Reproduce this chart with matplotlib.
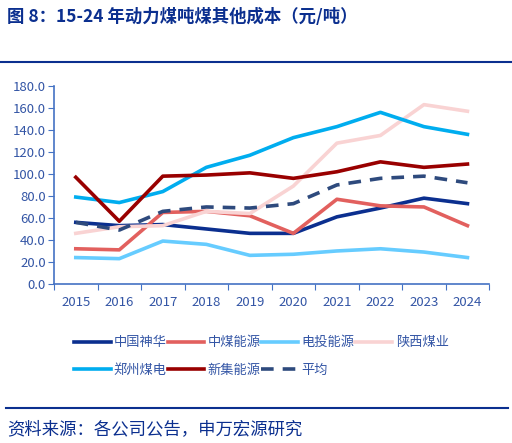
import numpy as np
import matplotlib
matplotlib.use('Agg')
import matplotlib.pyplot as plt
from matplotlib.lines import Line2D

plt.rcParams['font.family'] = ['Liberation Sans Narrow', 'Noto Sans CJK SC', 'DejaVu Sans']

# data
years = ['2015', '2016', '2017', '2018', '2019', '2020', '2021', '2022', '2023', '2024']
shenhua = [56, 53, 54, 50, 46, 46, 61, 69, 78, 73]
zhongmei = [32, 31, 65, 66, 62, 46, 77, 71, 70, 53]
diantou = [24, 23, 39, 36, 26, 27, 30, 32, 29, 24]
shanxi = [46, 52, 53, 66, 64, 89, 128, 135, 163, 157]
zhengzhou = [79, 74, 84, 106, 117, 133, 143, 156, 143, 136]
xinji = [97, 57, 98, 99, 101, 96, 102, 111, 106, 109]
average = [56, 49, 66, 70, 69, 73, 90, 96, 98, 92]

names = ['中国神华', '中煤能源', '电投能源', '陕西煤业', '郑州煤电', '新集能源', '平均']
colors = ['#0B2F8F', '#E2605E', '#66CCFF', '#F9D3D3', '#00ADEF', '#990000', '#2E4A7D']

navy = '#0B2F8F'
axcol = '#4472C4'
txtcol = '#3355A5'

fig = plt.figure(figsize=(5.12, 4.43), dpi=100)

fig.text(0.014, 0.962, '图 8：15-24 年动力煤吨煤其他成本（元/吨）', fontsize=12.5,
         fontweight='bold', color=navy, va='center', family=['Noto Sans CJK SC', 'DejaVu Sans'])
fig.add_artist(Line2D([0.0, 1.0], [0.861, 0.861], color=navy, lw=1.5))
fig.add_artist(Line2D([0.012, 0.992], [0.079, 0.079], color=navy, lw=1.5))
fig.text(0.014, 0.032, '资料来源：各公司公告，申万宏源研究', fontsize=12.5, color=navy,
         va='center', family=['Noto Sans CJK SC', 'DejaVu Sans'])

ax = fig.add_axes([0.1055, 0.359, 0.85, 0.447])
x = np.arange(len(years))
series = [shenhua, zhongmei, diantou, shanxi, zhengzhou, xinji, average]
handles = []
for vals, name, c in zip(series, names, colors):
    if name == '平均':
        h, = ax.plot(x, vals, color=c, lw=2.6, dashes=(3.5, 2.5), label=name)
    else:
        h, = ax.plot(x, vals, color=c, lw=2.6, label=name)
    handles.append(h)

ax.set_xlim(-0.5, 9.5)
ax.set_ylim(0, 180)
ax.set_yticks(np.arange(0, 181, 20))
ax.set_yticklabels(['%.1f' % v for v in np.arange(0, 181, 20)])
ax.set_xticks(np.arange(-0.5, 10, 1), minor=False)
ax.set_xticklabels([])
ax.set_xticks(x, minor=True)
ax.set_xticklabels(years, minor=True)
ax.tick_params(axis='x', which='major', length=4, color=axcol, direction='out')
ax.tick_params(axis='x', which='minor', length=0, pad=9, labelsize=9.5, labelcolor=txtcol)
ax.tick_params(axis='y', length=4, color=axcol, labelsize=9.5, labelcolor=txtcol, pad=2)
for s in ['top', 'right']:
    ax.spines[s].set_visible(False)
for s in ['left', 'bottom']:
    ax.spines[s].set_color(axcol)
    ax.spines[s].set_linewidth(1.2)

# legend filled by rows like the reference
order = [0, 4, 1, 5, 2, 6, 3]
leg = fig.legend([handles[i] for i in order], [names[i] for i in order],
                 loc='center', bbox_to_anchor=(0.51, 0.195), ncol=4, frameon=False,
                 prop={'family': ['Noto Sans CJK SC', 'DejaVu Sans'], 'size': 9.5},
                 handlelength=2.8, columnspacing=0.05, handletextpad=0.25, labelspacing=1.1)
for t in leg.get_texts():
    t.set_color(txtcol)

fig.savefig('out.png', dpi=100)
